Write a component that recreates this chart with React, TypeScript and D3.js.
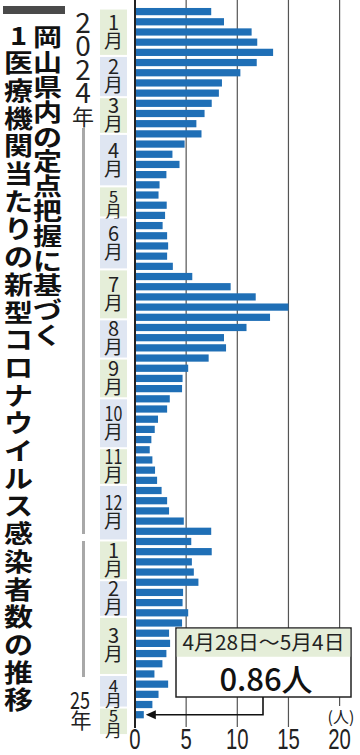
import React from "react";
import * as d3 from "d3";

// Weekly values (persons per sentinel medical institution), 2024 week 1 .. 2025 week 18
const values2024: number[] = [
  7.45, 8.7, 11.4, 11.95, 13.5, 11.9, 10.3, 8.5, 8.2, 7.5, 6.8, 6.0, 6.5,
  4.85, 3.66, 4.35, 3.07, 2.4, 2.3, 3.1, 2.94, 2.7, 3.14, 3.24, 3.14, 3.7,
  5.6, 9.35, 11.8, 15.0, 13.2, 10.9, 8.7, 8.9, 7.2, 5.2, 4.65, 4.6, 3.4,
  3.14, 2.25, 1.93, 1.6, 1.44, 1.7, 1.96, 2.16, 2.6, 3.14, 3.33, 4.77, 7.45,
];
const values2025: number[] = [
  5.5, 7.5, 5.56, 5.75, 6.2, 4.7, 4.65, 5.2, 4.6, 3.33, 3.43, 3.07, 2.68,
  1.9, 3.24, 2.3, 1.7, 0.86,
];
const weekLabels: string[] = [
  ...values2024.map((_, i) => `2024-W${i + 1}`),
  ...values2025.map((_, i) => `2025-W${i + 1}`),
];
const values: number[] = [...values2024, ...values2025];

// Month bands along the week axis (in week units)
const monthLabels: string[] = ["1", "2", "3", "4", "5", "6", "7", "8", "9", "10", "11", "12", "1", "2", "3", "4", "5"];
const monthStarts: number[] = [0.3, 4.95, 9.0, 12.6, 17.75, 20.8, 25.9, 30.8, 34.65, 38.55, 43.45, 47.05, 52.5, 56.4, 60.0, 65.7, 68.9];
const lastMonthEnd = 71.4;

const xTicks: number[] = [0, 5, 10, 15, 20];

const titleRight = "岡山県内の定点把握に基づく";
const titleLeft = "1医療機関当たりの新型コロナウイルス感染者数の推移";
const calloutDate = "4月28日～5月4日";
const calloutValue = "0.86人";

const W = 360;
const H = 755;
const BLUE = "#1f6fb6";
const GREEN_BG = "#e5eed9";
const BLUE_BG = "#dfe6f2";
const JP = "'Noto Sans CJK JP', 'Noto Sans', sans-serif";
const LAT = "'Liberation Sans', Arial, sans-serif";

export default function App() {
  const x = d3.scaleLinear().domain([0, 20]).range([135, 339.6]);
  const y = d3
    .scaleBand<string>()
    .domain(weekLabels)
    .range([6.5, 719.8])
    .paddingInner(0.29)
    .paddingOuter(0.145);
  const wk = d3.scaleLinear().domain([0, weekLabels.length]).range([6.5, 719.8]);

  const bands = monthLabels.map((m, i) => {
    const s = monthStarts[i];
    const e = i + 1 < monthStarts.length ? monthStarts[i + 1] - 0.2 : lastMonthEnd;
    return { m, y0: wk(s), y1: wk(e), odd: i % 2 === 1 };
  });

  const lastIdx = values.length - 1;
  const arrowY = (y(weekLabels[lastIdx]) as number) + y.bandwidth() / 2;
  const arrowTipX = x(values[lastIdx]) + 2;
  const boxX0 = 176;
  const boxX1 = 351;
  const boxY0 = 628;
  const boxY1 = 697;
  const boxMid = 263;

  const gridBottom = 727;

  return (
    <svg
      width={W}
      height={H}
      viewBox={`0 0 ${W} ${H}`}
      style={{ position: "absolute", left: 0, top: 0, background: "#fff" }}
    >
      {/* month bands */}
      {bands.map((b, i) => {
        const cy = (b.y0 + b.y1) / 2;
        const two = b.m.length > 1;
        const compact = b.y1 - b.y0 < 32;
        return (
          <g key={i}>
            <rect x={100} y={b.y0} width={27} height={b.y1 - b.y0} fill={b.odd ? BLUE_BG : GREEN_BG} />
            <text
              transform={`translate(113.5,${compact ? cy + 1 : cy - 2.5}) scale(${two ? 0.8 : 1},1)`}
              textAnchor="middle"
              fontFamily={JP}
              fontSize={compact ? 17 : 20}
              fill="#222"
            >
              {b.m}
            </text>
            <text
              x={113.5}
              y={compact ? cy + 16 : cy + 15.5}
              textAnchor="middle"
              fontFamily={JP}
              fontSize={compact ? 17 : 19}
              fill="#222"
            >
              月
            </text>
          </g>
        );
      })}

      {/* grid lines */}
      {xTicks.slice(1).map((t, i, arr) => (
        <line
          key={t}
          x1={x(t)}
          x2={x(t)}
          y1={0}
          y2={i === arr.length - 1 ? 706 : gridBottom}
          stroke="#555"
          strokeWidth={1.2}
        />
      ))}

      {/* bars */}
      {values.map((v, i) => (
        <rect
          key={i}
          x={x(0)}
          y={y(weekLabels[i])}
          width={x(v) - x(0)}
          height={y.bandwidth()}
          fill={BLUE}
        />
      ))}

      {/* axis line */}
      <line x1={x(0)} x2={x(0)} y1={0} y2={gridBottom + 1} stroke="#222" strokeWidth={2} />

      {/* tick labels */}
      {xTicks.map((t) => (
        <text
          key={t}
          transform={`translate(${x(t)},748.5) scale(0.78,1.15)`}
          textAnchor="middle"
          fontFamily={LAT}
          fontSize={26}
          fill="#222"
        >
          {t}
        </text>
      ))}
      <text x={341} y={723} textAnchor="middle" fontFamily={JP} fontSize={16} fill="#222">
        (人)
      </text>

      {/* callout */}
      <rect x={boxX0} y={boxY0} width={boxX1 - boxX0} height={boxY1 - boxY0} fill="#fff" stroke="#222" strokeWidth={1.5} />
      <rect x={boxX0 + 0.75} y={boxY0 + 0.75} width={boxX1 - boxX0 - 1.5} height={28} fill={GREEN_BG} />
      <text
        x={(boxX0 + boxX1) / 2}
        y={650}
        textAnchor="middle"
        fontFamily={JP}
        fontSize={20}
        textLength={162}
        lengthAdjust="spacingAndGlyphs"
        fill="#222"
      >
        {calloutDate}
      </text>
      <text x={266} y={691} textAnchor="middle" fontFamily={JP} fontSize={31} fontWeight={500} fill="#111">
        {calloutValue}
      </text>
      <polyline
        points={`${boxMid},${boxY1} ${boxMid},${arrowY} ${arrowTipX + 8},${arrowY}`}
        fill="none"
        stroke="#111"
        strokeWidth={1.6}
      />
      <path
        d={`M${arrowTipX},${arrowY} L${arrowTipX + 10},${arrowY - 4.5} L${arrowTipX + 10},${arrowY + 4.5} Z`}
        fill="#111"
      />

      {/* year labels */}
      {"2024".split("").map((c, i) => (
        <text
          key={i}
          x={83}
          y={21 + i * 23.4}
          textAnchor="middle"
          dominantBaseline="central"
          fontFamily={JP}
          fontSize={28}
          fill="#222"
        >
          {c}
        </text>
      ))}
      <text x={83} y={115} textAnchor="middle" dominantBaseline="central" fontFamily={JP} fontSize={22} fill="#222">
        年
      </text>
      <line x1={83.5} x2={83.5} y1={128} y2={534} stroke="#a8a8a8" strokeWidth={3} />
      <line x1={83.5} x2={83.5} y1={541} y2={677} stroke="#a8a8a8" strokeWidth={3} />
      <text
        transform={`translate(80,698) scale(0.75,1)`}
        textAnchor="middle"
        dominantBaseline="central"
        fontFamily={JP}
        fontSize={24}
        fill="#222"
      >
        25
      </text>
      <text x={81} y={719} textAnchor="middle" dominantBaseline="central" fontFamily={JP} fontSize={21} fill="#222">
        年
      </text>

      {/* title */}
      <rect x={3} y={6} width={62} height={8} fill="#4a4a4a" />
      {titleRight.split("").map((c, i) => (
        <text
          key={"r" + i}
          transform={`translate(47.5,${36 + i * 24.8}) scale(1,0.82)`}
          textAnchor="middle"
          dominantBaseline="central"
          fontFamily={JP}
          fontWeight={700}
          fontSize={29}
          fill="#111"
        >
          {c}
        </text>
      ))}
      {titleLeft.split("").map((c, i) => (
        <text
          key={"l" + i}
          transform={`translate(18.5,${34 + i * 27.7}) scale(1,0.85)`}
          textAnchor="middle"
          dominantBaseline="central"
          fontFamily={JP}
          fontWeight={700}
          fontSize={29}
          fill="#111"
        >
          {c}
        </text>
      ))}
    </svg>
  );
}
